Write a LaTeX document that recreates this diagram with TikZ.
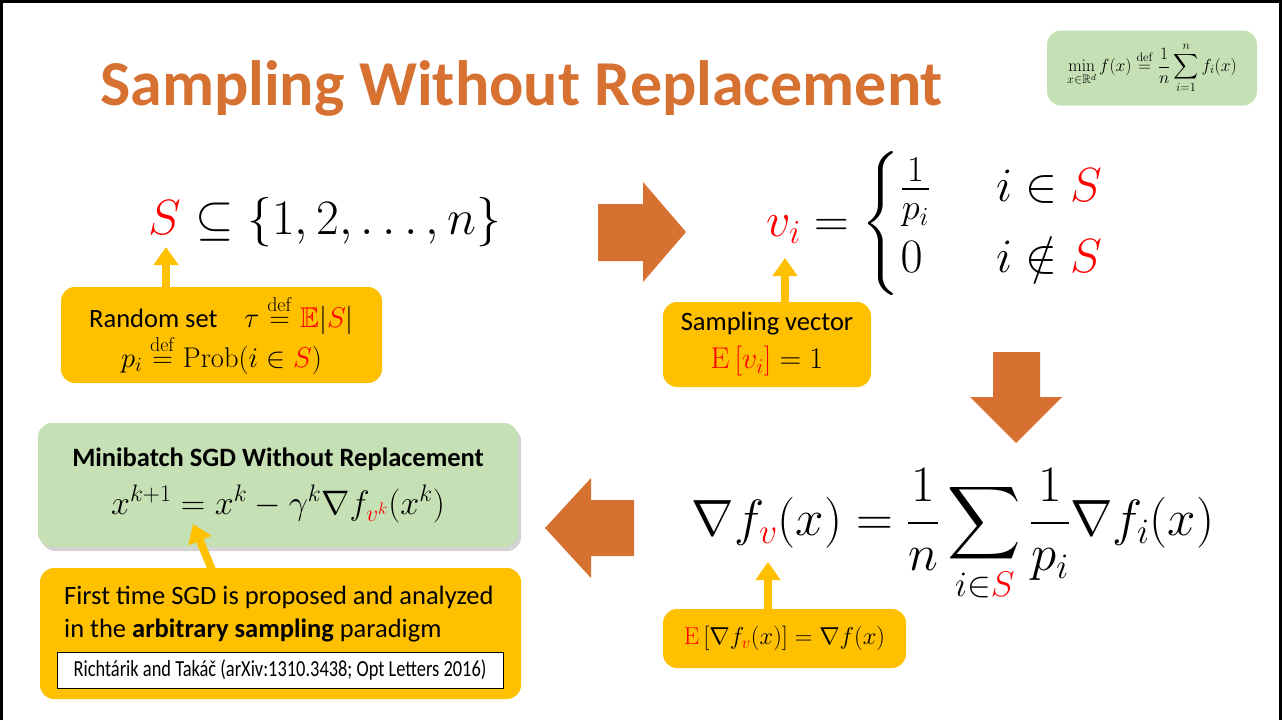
\RequirePackage{fix-cm}
\documentclass[tikz,border=0pt]{standalone}
\usepackage{amsmath,amssymb}
\usepackage[no-math]{fontspec}
\newfontfamily\calibri{Carlito}
\newfontfamily\citefont[FakeStretch=0.8]{Carlito}
\usetikzlibrary{arrows.meta,shadows}

\definecolor{slideorange}{RGB}{214,113,49}
\definecolor{calloutyellow}{RGB}{255,192,0}
\definecolor{boxgreen}{RGB}{197,224,180}
\definecolor{hlred}{RGB}{255,0,0}
\newcommand{\hl}[1]{{\color{hlred}#1}}
\newcommand{\defeq}{\overset{\mathrm{def}}{=}}
\newcommand{\mathsize}[1]{\fontsize{#1}{#1}\selectfont}

\begin{document}
\begin{tikzpicture}[x=1pt,y=-1pt,
  callout/.style={fill=calloutyellow,rounded corners=14pt,inner sep=0pt,align=center},
  greenbox/.style={fill=boxgreen,rounded corners=14pt,inner sep=0pt,align=center},
  pointer/.style={draw=calloutyellow,line width=8pt,-{Triangle[width=24pt,length=18pt]}},
  bigarrow/.style={fill=slideorange}]

\useasboundingbox (0,0) rectangle (1282,720);
\draw[line width=3pt] (1.5,720) -- (1.5,1.5) -- (1280.5,1.5) -- (1280.5,720);

\node[anchor=base west,inner sep=0pt,text=slideorange,font=\calibri\bfseries\fontsize{64}{74}\selectfont] (title) at (100,105) {Sampling Without Replacement};

\node[greenbox,minimum width=210,minimum height=75,font=\fontsize{17.5}{20}\selectfont] (problem) at (1152,68) {$\displaystyle\min_{x\in\mathbb{R}^d} f(x) \defeq \frac{1}{n}\sum_{i=1}^n f_i(x)$};

% top row
\node[font=\fontsize{49.5}{56}\selectfont] (setS) at (325,222) {$\hl{S} \subseteq \{1,2,\ldots,n\}$};
\node[font=\fontsize{48}{54}\selectfont] (vdef) at (935,224) {$\hl{v_i} = \begin{cases}\mbox{\mathsize{52}$\frac{1}{p_i}$} & \hspace{18pt} i\in\hl{S}\\ 0 & \hspace{18pt} i\notin\hl{S}\end{cases}$};

\node[callout,minimum width=321,minimum height=96,font=\calibri\fontsize{26.5}{40}\selectfont] (randset) at (221.5,335) {Random set\quad {\mathsize{28.5}$\tau \defeq \hl{\mathbb{E}}|\hl{S}|$}\\ {\mathsize{28.5}$p_i \defeq \mathrm{Prob}(i\in \hl{S})$}};
\node[callout,minimum width=208,minimum height=85,font=\calibri\fontsize{26.5}{38}\selectfont] (sampvec) at (767,344.5) {Sampling vector\\ {\mathsize{30}$\hl{\mathrm{E}\left[v_i\right]} = 1$}};

\coordinate (sTip) at (166,247);
\coordinate (vTip) at (785,258);
\draw[pointer] (sTip |- randset.north) -- (sTip);
\draw[pointer] (vTip |- sampvec.north) -- (vTip);

% bottom row
\node[font=\fontsize{51}{56}\selectfont] (grad) at (953,536) {$\displaystyle\nabla f_{\hl{v}}(x) = \frac{1}{n}\sum_{i\in\hl{S}}\frac{1}{p_i}\nabla f_i(x)$};
\node[callout,minimum width=243,minimum height=59,font=\fontsize{24.5}{30}\selectfont] (unbiased) at (784.5,638.5) {$\hl{\mathrm{E}}\left[\nabla f_{\hl{v}}(x)\right] = \nabla f(x)$};
\coordinate (gTip) at (768,562);
\draw[pointer] (gTip |- unbiased.north) -- (gTip);

\node[greenbox,minimum width=480,minimum height=124,drop shadow={opacity=0.35,shadow xshift=3pt,shadow yshift=-4pt},font=\calibri\fontsize{26.5}{36}\selectfont] (method) at (278,485) {\textbf{Minibatch SGD Without Replacement}\\[12pt] {\mathsize{34}$x^{k+1} = x^k - \gamma^k\nabla f_{\hl{v^k}}(x^k)$}};

\node[callout,minimum width=481,minimum height=131] (history) at (280.5,633.5) {};
\node[anchor=north west,inner sep=0pt,align=left,font=\calibri\fontsize{26.5}{33}\selectfont] (historytext) at (64,586) {First time SGD is proposed and analyzed\\ in the \textbf{arbitrary sampling} paradigm};
\node[draw=black,fill=white,line width=1pt,minimum width=446,minimum height=36,inner sep=0pt,font=\citefont\fontsize{23}{26}\selectfont] (cite) at (280,670) {Richtárik and Takáč (arXiv:1310.3438; Opt Letters 2016)};

\coordinate (mFoot) at (212,570);
\coordinate (mTip) at (193,524);
\draw[pointer] (mFoot) -- (mTip);

% block arrows
\fill[bigarrow] (598,204) -- (643,204) -- (643,182) -- (686,232) -- (643,282) -- (643,261) -- (598,261) -- cycle;
\fill[bigarrow] (993,352) -- (1040,352) -- (1040,397) -- (1062,397) -- (1016,443) -- (970,397) -- (993,397) -- cycle;
\fill[bigarrow] (634,500) -- (591,500) -- (591,478) -- (545,528) -- (591,578) -- (591,556) -- (634,556) -- cycle;

\end{tikzpicture}
\end{document}
